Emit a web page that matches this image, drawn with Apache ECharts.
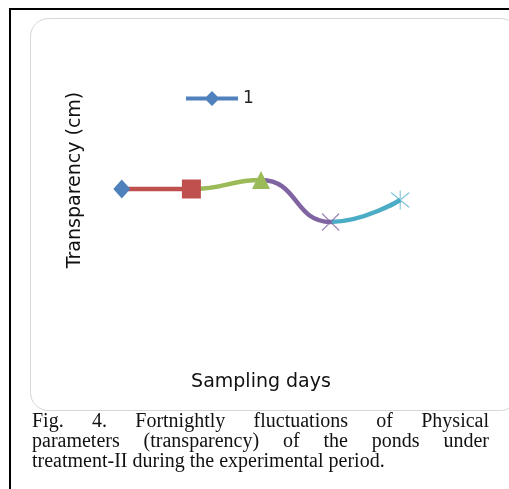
<!DOCTYPE html>
<html>
<head>
<meta charset="utf-8">
<script src="https://cdn.jsdelivr.net/npm/echarts@6/dist/echarts.min.js"></script>
<style>
  html, body { margin: 0; padding: 0; background: #fff; }
  #wrap { position: relative; width: 509px; height: 489px; overflow: hidden; }
  #chart { position: absolute; left: 0; top: 0; width: 509px; height: 489px; }
  #caption {
    position: absolute; left: 32px; top: 410px; width: 457px;
    font-family: "Liberation Serif", "DejaVu Serif", serif;
    font-size: 20px; line-height: 20px; color: #111;
  }
  #caption .j { text-align: justify; text-align-last: justify; white-space: nowrap; }
  #caption .l { text-align: left; white-space: nowrap; }
</style>
</head>
<body>
<div id="wrap">
  <div id="chart"></div>
  <div id="caption">
    <div class="j">Fig. 4. Fortnightly fluctuations of Physical</div>
    <div class="j">parameters (transparency) of the ponds under</div>
    <div class="l">treatment-II during the experimental period.</div>
  </div>
</div>
<script>
// Fortnightly sampling days and pond transparency (cm), treatment-II
const samplingDays = ['1', '2', '3', '4', '5'];
const transparency = [14.1, 14.1, 15.0, 10.8, 13.0];
const seriesName = '1';

// Per-point colours and marker shapes (Office-style "vary colours by point")
const pointColors = ['#4F81BD', '#C0504D', '#9BBB59', '#8064A2', '#4BACC6'];
const crossPath = 'path://M0,0.9 L0.9,0 L18,17.1 L17.1,18 Z M18,0.9 L17.1,0 L0,17.1 L0.9,18 Z';
const starPath = 'path://M0,0.9 L0.9,0 L18,17.1 L17.1,18 Z M18,0.9 L17.1,0 L0,17.1 L0.9,18 Z M8.5,-2 L9.5,-2 L9.5,20 L8.5,20 Z';
const pointSymbols = ['diamond', 'rect', 'triangle', crossPath, starPath];
const pointSizes = [[17, 19], 19, 18, 18, 19];

const chart = echarts.init(document.getElementById('chart'), null, { renderer: 'canvas' });

// each segment takes the colour of the point it ends on
const pieces = transparency.slice(1).map((_, i) => {
  const p = { color: pointColors[i + 1] };
  if (i > 0) p.gt = i;
  if (i < transparency.length - 2) p.lte = i + 1;
  return p;
});

const markerData = transparency.map((v, i) => ({
  value: v,
  symbol: pointSymbols[i],
  symbolSize: pointSizes[i],
  itemStyle: { color: pointColors[i], opacity: i >= 3 ? 0.75 : 1 }
}));

const titleFont = 'DejaVu Sans';

chart.setOption({
  animation: false,
  backgroundColor: '#fff',
  graphic: [
    { type: 'line', z: 0, shape: { x1: 9, y1: 9, x2: 509, y2: 9 }, style: { stroke: '#000', lineWidth: 2 } },
    { type: 'line', z: 0, shape: { x1: 10, y1: 8, x2: 10, y2: 489 }, style: { stroke: '#000', lineWidth: 2 } },
    { type: 'rect', z: 0, shape: { x: 30.5, y: 18.5, width: 488, height: 392, r: 18 },
      style: { fill: 'none', stroke: '#d6d6d6', lineWidth: 1 } }
  ],
  grid: { left: 87, width: 348, top: 30, height: 300 },
  legend: {
    left: 186, top: 90, padding: 0,
    itemWidth: 52, itemHeight: 15,
    textStyle: { fontFamily: titleFont, fontSize: 17, color: '#222' },
    data: [{
      name: seriesName,
      icon: 'path://M0,5.5 L52,5.5 L52,9.5 L0,9.5 Z M26,0 L33.5,7.5 L26,15 L18.5,7.5 Z',
      itemStyle: { color: pointColors[0] }
    }]
  },
  visualMap: {
    type: 'piecewise', show: false, dimension: 0, seriesIndex: 0, pieces: pieces
  },
  xAxis: {
    type: 'category',
    data: samplingDays,
    boundaryGap: true,
    axisLine: { show: false }, axisTick: { show: false },
    axisLabel: { show: false }, splitLine: { show: false },
    name: 'Sampling days', nameLocation: 'middle', nameGap: 43,
    nameTextStyle: { fontFamily: titleFont, fontSize: 19, color: '#111' }
  },
  yAxis: {
    type: 'value', min: 0, max: 30,
    axisLine: { show: false }, axisTick: { show: false },
    axisLabel: { show: false }, splitLine: { show: false },
    name: 'Transparency (cm)', nameLocation: 'middle', nameGap: 2,
    nameTextStyle: { fontFamily: titleFont, fontSize: 19, color: '#111' }
  },
  series: [
    {
      name: seriesName,
      type: 'line',
      data: transparency,
      smooth: 0.5,
      symbol: 'none',
      showSymbol: false,
      lineStyle: { width: 4.5 },
      z: 2
    },
    {
      name: 'points',
      type: 'scatter',
      data: markerData,
      z: 3
    }
  ]
});
</script>
</body>
</html>
